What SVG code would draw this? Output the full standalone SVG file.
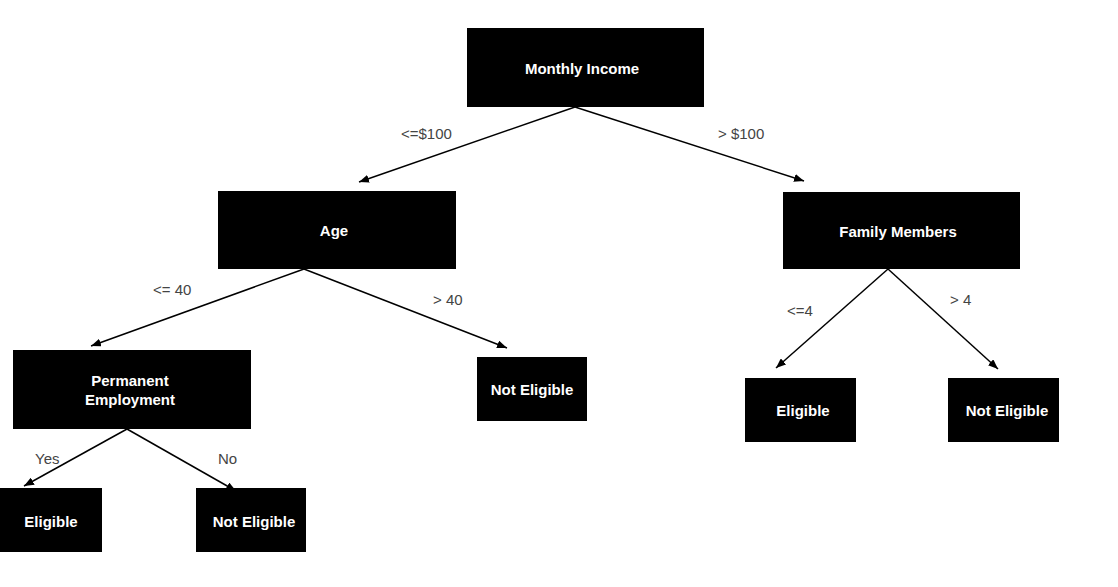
<svg xmlns="http://www.w3.org/2000/svg" width="1118" height="587" viewBox="0 0 1118 587">
<style>
.box{fill:#000}
.nt{fill:#fff;font-family:"Liberation Sans",Arial,sans-serif;font-weight:bold;font-size:15px;text-anchor:middle}
.lb{fill:#444;font-family:"Liberation Sans",Arial,sans-serif;font-size:15px}
.ln{stroke:#000;stroke-width:1.5;fill:none;marker-end:url(#ah)}
</style>
<defs>
<marker id="ah" viewBox="0 0 10 8" refX="10" refY="4" markerWidth="10" markerHeight="8" markerUnits="userSpaceOnUse" orient="auto">
<path d="M0,0 L10,4 L0,8 Z" fill="#000"/>
</marker>
</defs>
<rect width="1118" height="587" fill="#fff"/>
<g id="connectors">
<line class="ln" x1="575" y1="107" x2="359" y2="182"/>
<line class="ln" x1="575" y1="107" x2="804" y2="181"/>
<line class="ln" x1="304" y1="269" x2="91" y2="346"/>
<line class="ln" x1="304" y1="269" x2="507" y2="348"/>
<line class="ln" x1="888" y1="269" x2="776" y2="368"/>
<line class="ln" x1="888" y1="269" x2="998" y2="369"/>
<line class="ln" x1="127" y1="429" x2="24" y2="486"/>
<line class="ln" x1="127" y1="429" x2="236" y2="491"/>
<text class="lb" x="401" y="139">&lt;=$100</text>
<text class="lb" x="718" y="139">&gt; $100</text>
<text class="lb" x="153" y="295">&lt;= 40</text>
<text class="lb" x="433" y="305">&gt; 40</text>
<text class="lb" x="787" y="316">&lt;=4</text>
<text class="lb" x="950" y="305">&gt; 4</text>
<text class="lb" x="35" y="464">Yes</text>
<text class="lb" x="218" y="464">No</text>
</g>
<g id="monthly-income"><rect class="box" x="467" y="28" width="237" height="79"/><text class="nt" x="582" y="74">Monthly Income</text></g>
<g id="age"><rect class="box" x="218" y="191" width="238" height="78"/><text class="nt" x="334" y="236">Age</text></g>
<g id="family-members"><rect class="box" x="783" y="192" width="237" height="77"/><text class="nt" x="898" y="237">Family Members</text></g>
<g id="permanent-employment"><rect class="box" x="13" y="350" width="238" height="79"/><text class="nt" x="130" y="386">Permanent</text><text class="nt" x="130" y="405">Employment</text></g>
<g id="not-eligible-age"><rect class="box" x="477" y="357" width="110" height="64"/><text class="nt" x="532" y="395">Not Eligible</text></g>
<g id="eligible-family"><rect class="box" x="745" y="378" width="111" height="64"/><text class="nt" x="803" y="416">Eligible</text></g>
<g id="not-eligible-family"><rect class="box" x="948" y="378" width="111" height="64"/><text class="nt" x="1007" y="416">Not Eligible</text></g>
<g id="eligible-employment"><rect class="box" x="0" y="488" width="102" height="64"/><text class="nt" x="51" y="527">Eligible</text></g>
<g id="not-eligible-employment"><rect class="box" x="196" y="488" width="110" height="64"/><text class="nt" x="254" y="527">Not Eligible</text></g>
</svg>
